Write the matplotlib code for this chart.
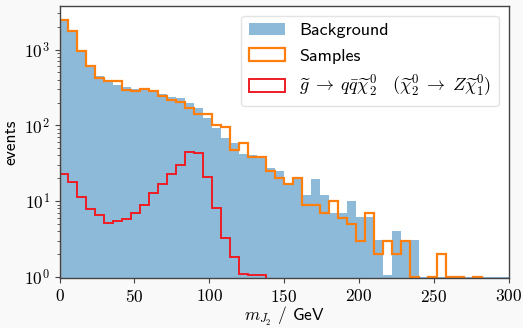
import os
import numpy as np
import matplotlib
matplotlib.use('Agg')
import matplotlib.pyplot as plt
from matplotlib import font_manager

# computer modern sans ships with matplotlib itself
cmss = os.path.join(matplotlib.get_data_path(), 'fonts', 'ttf', 'cmss10.ttf')
font_manager.fontManager.addfont(cmss)
plt.rcParams['font.family'] = ['cmss10', 'DejaVu Sans']
plt.rcParams['mathtext.fontset'] = 'cm'
plt.rcParams['axes.unicode_minus'] = False

# binning: 50 bins from 0 to 300 GeV
bin_edges = np.linspace(0, 300, 51)
bin_centers = 0.5 * (bin_edges[1:] + bin_edges[:-1])

background = [2400, 1750, 920, 590, 450, 385, 340, 325, 299, 290,
              288, 257, 239, 230, 195, 168, 124, 93, 69, 58,
              42, 40, 38, 27, 25, 16.7, 20, 12, 19.3, 12,
              7.0, 7.0, 10.1, 6.2, 6.2, 3.05, 1.05, 4.06, 3.05, 3.05,
              1, 1, 1, 1, 1, 1, 1, 1, 1, 1]

samples = [2460, 1780, 967, 601, 418, 385, 385, 292, 284, 299,
           287, 244, 214, 201, 168, 140, 140, 100, 95, 47,
           58, 38, 38, 25, 20, 17, 20, 9, 9, 7,
           10, 6, 5, 3, 7, 2, 3, 2, 3, 1,
           0, 1, 2, 1, 1, 0, 1, 0, 0, 0]

signal = [22.7, 17.7, 11.4, 7.8, 6.5, 5.2, 5.4, 5.8, 7.0, 8.9,
          12.6, 16.6, 22.7, 30, 44, 43, 20.6, 8.1, 3.3, 1.85,
          1.1, 1.05, 1.05, 0, 0, 0, 0, 0, 0, 0,
          0, 0, 0, 0, 0, 0, 0, 0, 0, 0,
          0, 0, 0, 0, 0, 0, 0, 0, 0, 0]

xticks = [0, 50, 100, 150, 200, 250, 300]
signal_label = (r'$\widetilde{g}\;\to\;q\bar{q}\widetilde{\chi}_2^0\quad'
                r'(\widetilde{\chi}_2^0\;\to\;Z\widetilde{\chi}_1^0)$')

fig = plt.figure(figsize=(5.23, 3.28), dpi=100, facecolor='#f9f9f9')
ax = fig.add_axes([0.1138, 0.151, 0.8585, 0.8316])

ax.hist(bin_centers, bins=bin_edges, weights=background,
        histtype='stepfilled', color='C0', alpha=0.5, label='Background')
ax.hist(bin_centers, bins=bin_edges, weights=samples,
        histtype='step', color='C1', lw=1.6, label='Samples')
ax.hist(bin_centers, bins=bin_edges, weights=signal,
        histtype='step', color='#ee1c25', lw=1.4, label=signal_label)

ax.set_yscale('log')
ax.set_xlim(0, 300)
ax.set_ylim(0.95, 3800)

ax.set_xticks(xticks)
ax.set_xticklabels(['$%d$' % t for t in xticks])
ax.yaxis.set_major_formatter(
    plt.FuncFormatter(lambda v, p: r'$10^{%d}$' % round(np.log10(v))))

for sp in ax.spines.values():
    sp.set_color('#444444')
    sp.set_linewidth(1.0)
ax.tick_params(which='both', colors='#444444', labelcolor='black',
               labelsize=12.5)
ax.tick_params(which='major', length=3.5)
ax.tick_params(which='minor', length=2)

ax.set_xlabel(r'$m_{J_2}$ / GeV', fontsize=12.5, labelpad=0)
ax.set_ylabel('events', fontsize=12.5, labelpad=4)

leg = ax.legend(loc='upper right', fontsize=13, labelspacing=0.55,
                borderaxespad=0.55, fancybox=True)
leg.get_frame().set_edgecolor('#dddddd')

fig.savefig('out.png', dpi=100, facecolor=fig.get_facecolor())
